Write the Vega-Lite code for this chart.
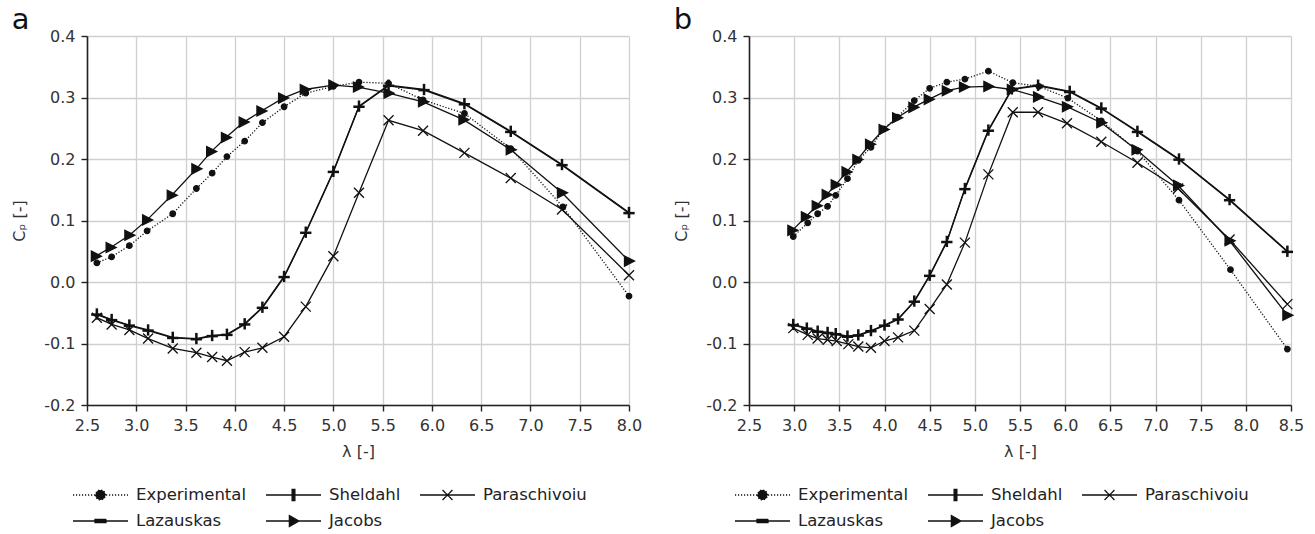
{
  "$schema": "https://vega.github.io/schema/vega-lite/v6.json",
  "padding": {"left": 11, "top": 6, "right": 5, "bottom": 0},
  "spacing": 31,
  "datasets": {
    "a": [
      {"series": "Experimental", "lambda": 2.60, "cp": 0.031},
      {"series": "Experimental", "lambda": 2.75, "cp": 0.041},
      {"series": "Experimental", "lambda": 2.93, "cp": 0.059},
      {"series": "Experimental", "lambda": 3.11, "cp": 0.083},
      {"series": "Experimental", "lambda": 3.37, "cp": 0.111},
      {"series": "Experimental", "lambda": 3.61, "cp": 0.152},
      {"series": "Experimental", "lambda": 3.77, "cp": 0.177},
      {"series": "Experimental", "lambda": 3.92, "cp": 0.204},
      {"series": "Experimental", "lambda": 4.10, "cp": 0.229},
      {"series": "Experimental", "lambda": 4.28, "cp": 0.259},
      {"series": "Experimental", "lambda": 4.50, "cp": 0.285},
      {"series": "Experimental", "lambda": 4.72, "cp": 0.307},
      {"series": "Experimental", "lambda": 5.00, "cp": 0.318},
      {"series": "Experimental", "lambda": 5.26, "cp": 0.325},
      {"series": "Experimental", "lambda": 5.56, "cp": 0.323},
      {"series": "Experimental", "lambda": 5.91, "cp": 0.296},
      {"series": "Experimental", "lambda": 6.33, "cp": 0.274},
      {"series": "Experimental", "lambda": 6.80, "cp": 0.217},
      {"series": "Experimental", "lambda": 7.33, "cp": 0.122},
      {"series": "Experimental", "lambda": 8.00, "cp": -0.023},
      {"series": "Sheldahl", "lambda": 2.60, "cp": -0.052},
      {"series": "Sheldahl", "lambda": 2.75, "cp": -0.061},
      {"series": "Sheldahl", "lambda": 2.93, "cp": -0.070},
      {"series": "Sheldahl", "lambda": 3.12, "cp": -0.078},
      {"series": "Sheldahl", "lambda": 3.37, "cp": -0.090},
      {"series": "Sheldahl", "lambda": 3.61, "cp": -0.092},
      {"series": "Sheldahl", "lambda": 3.77, "cp": -0.087},
      {"series": "Sheldahl", "lambda": 3.92, "cp": -0.085},
      {"series": "Sheldahl", "lambda": 4.10, "cp": -0.068},
      {"series": "Sheldahl", "lambda": 4.28, "cp": -0.041},
      {"series": "Sheldahl", "lambda": 4.50, "cp": 0.009},
      {"series": "Sheldahl", "lambda": 4.72, "cp": 0.081},
      {"series": "Sheldahl", "lambda": 5.00, "cp": 0.180},
      {"series": "Sheldahl", "lambda": 5.26, "cp": 0.286},
      {"series": "Sheldahl", "lambda": 5.56, "cp": 0.320},
      {"series": "Sheldahl", "lambda": 5.92, "cp": 0.313},
      {"series": "Sheldahl", "lambda": 6.33, "cp": 0.290},
      {"series": "Sheldahl", "lambda": 6.80, "cp": 0.245},
      {"series": "Sheldahl", "lambda": 7.32, "cp": 0.191},
      {"series": "Sheldahl", "lambda": 8.00, "cp": 0.113},
      {"series": "Lazauskas", "lambda": 2.60, "cp": -0.053},
      {"series": "Lazauskas", "lambda": 2.75, "cp": -0.062},
      {"series": "Lazauskas", "lambda": 2.93, "cp": -0.071},
      {"series": "Lazauskas", "lambda": 3.12, "cp": -0.079},
      {"series": "Lazauskas", "lambda": 3.37, "cp": -0.091},
      {"series": "Lazauskas", "lambda": 3.61, "cp": -0.093},
      {"series": "Lazauskas", "lambda": 3.77, "cp": -0.088},
      {"series": "Lazauskas", "lambda": 3.92, "cp": -0.086},
      {"series": "Lazauskas", "lambda": 4.10, "cp": -0.069},
      {"series": "Lazauskas", "lambda": 4.28, "cp": -0.042},
      {"series": "Lazauskas", "lambda": 4.50, "cp": 0.008},
      {"series": "Lazauskas", "lambda": 4.72, "cp": 0.080},
      {"series": "Lazauskas", "lambda": 5.00, "cp": 0.179},
      {"series": "Lazauskas", "lambda": 5.26, "cp": 0.285},
      {"series": "Lazauskas", "lambda": 5.56, "cp": 0.319},
      {"series": "Lazauskas", "lambda": 5.92, "cp": 0.312},
      {"series": "Lazauskas", "lambda": 6.33, "cp": 0.289},
      {"series": "Lazauskas", "lambda": 6.80, "cp": 0.244},
      {"series": "Lazauskas", "lambda": 7.32, "cp": 0.190},
      {"series": "Lazauskas", "lambda": 8.00, "cp": 0.112},
      {"series": "Paraschivoiu", "lambda": 2.60, "cp": -0.058},
      {"series": "Paraschivoiu", "lambda": 2.75, "cp": -0.069},
      {"series": "Paraschivoiu", "lambda": 2.93, "cp": -0.078},
      {"series": "Paraschivoiu", "lambda": 3.12, "cp": -0.092},
      {"series": "Paraschivoiu", "lambda": 3.37, "cp": -0.108},
      {"series": "Paraschivoiu", "lambda": 3.61, "cp": -0.115},
      {"series": "Paraschivoiu", "lambda": 3.77, "cp": -0.122},
      {"series": "Paraschivoiu", "lambda": 3.92, "cp": -0.128},
      {"series": "Paraschivoiu", "lambda": 4.10, "cp": -0.114},
      {"series": "Paraschivoiu", "lambda": 4.28, "cp": -0.107},
      {"series": "Paraschivoiu", "lambda": 4.50, "cp": -0.089},
      {"series": "Paraschivoiu", "lambda": 4.72, "cp": -0.040},
      {"series": "Paraschivoiu", "lambda": 5.00, "cp": 0.042},
      {"series": "Paraschivoiu", "lambda": 5.26, "cp": 0.145},
      {"series": "Paraschivoiu", "lambda": 5.56, "cp": 0.263},
      {"series": "Paraschivoiu", "lambda": 5.91, "cp": 0.246},
      {"series": "Paraschivoiu", "lambda": 6.33, "cp": 0.210},
      {"series": "Paraschivoiu", "lambda": 6.80, "cp": 0.169},
      {"series": "Paraschivoiu", "lambda": 7.32, "cp": 0.118},
      {"series": "Paraschivoiu", "lambda": 8.00, "cp": 0.011},
      {"series": "Jacobs", "lambda": 2.59, "cp": 0.042},
      {"series": "Jacobs", "lambda": 2.74, "cp": 0.056},
      {"series": "Jacobs", "lambda": 2.93, "cp": 0.076},
      {"series": "Jacobs", "lambda": 3.11, "cp": 0.101},
      {"series": "Jacobs", "lambda": 3.36, "cp": 0.141},
      {"series": "Jacobs", "lambda": 3.61, "cp": 0.184},
      {"series": "Jacobs", "lambda": 3.76, "cp": 0.212},
      {"series": "Jacobs", "lambda": 3.91, "cp": 0.235},
      {"series": "Jacobs", "lambda": 4.09, "cp": 0.260},
      {"series": "Jacobs", "lambda": 4.27, "cp": 0.278},
      {"series": "Jacobs", "lambda": 4.49, "cp": 0.299},
      {"series": "Jacobs", "lambda": 4.71, "cp": 0.313},
      {"series": "Jacobs", "lambda": 5.00, "cp": 0.320},
      {"series": "Jacobs", "lambda": 5.25, "cp": 0.317},
      {"series": "Jacobs", "lambda": 5.56, "cp": 0.307},
      {"series": "Jacobs", "lambda": 5.91, "cp": 0.293},
      {"series": "Jacobs", "lambda": 6.32, "cp": 0.264},
      {"series": "Jacobs", "lambda": 6.80, "cp": 0.215},
      {"series": "Jacobs", "lambda": 7.32, "cp": 0.145},
      {"series": "Jacobs", "lambda": 8.00, "cp": 0.034}
    ],
    "b": [
      {"series": "Experimental", "lambda": 2.99, "cp": 0.074},
      {"series": "Experimental", "lambda": 3.15, "cp": 0.096},
      {"series": "Experimental", "lambda": 3.26, "cp": 0.111},
      {"series": "Experimental", "lambda": 3.37, "cp": 0.123},
      {"series": "Experimental", "lambda": 3.46, "cp": 0.141},
      {"series": "Experimental", "lambda": 3.59, "cp": 0.168},
      {"series": "Experimental", "lambda": 3.71, "cp": 0.198},
      {"series": "Experimental", "lambda": 3.85, "cp": 0.219},
      {"series": "Experimental", "lambda": 3.99, "cp": 0.249},
      {"series": "Experimental", "lambda": 4.14, "cp": 0.268},
      {"series": "Experimental", "lambda": 4.33, "cp": 0.295},
      {"series": "Experimental", "lambda": 4.50, "cp": 0.315},
      {"series": "Experimental", "lambda": 4.69, "cp": 0.325},
      {"series": "Experimental", "lambda": 4.89, "cp": 0.330},
      {"series": "Experimental", "lambda": 5.15, "cp": 0.343},
      {"series": "Experimental", "lambda": 5.42, "cp": 0.324},
      {"series": "Experimental", "lambda": 5.71, "cp": 0.318},
      {"series": "Experimental", "lambda": 6.03, "cp": 0.299},
      {"series": "Experimental", "lambda": 6.40, "cp": 0.262},
      {"series": "Experimental", "lambda": 6.80, "cp": 0.213},
      {"series": "Experimental", "lambda": 7.26, "cp": 0.133},
      {"series": "Experimental", "lambda": 7.83, "cp": 0.020},
      {"series": "Experimental", "lambda": 8.46, "cp": -0.109},
      {"series": "Sheldahl", "lambda": 2.99, "cp": -0.069},
      {"series": "Sheldahl", "lambda": 3.14, "cp": -0.075},
      {"series": "Sheldahl", "lambda": 3.26, "cp": -0.080},
      {"series": "Sheldahl", "lambda": 3.37, "cp": -0.082},
      {"series": "Sheldahl", "lambda": 3.46, "cp": -0.084},
      {"series": "Sheldahl", "lambda": 3.59, "cp": -0.088},
      {"series": "Sheldahl", "lambda": 3.71, "cp": -0.086},
      {"series": "Sheldahl", "lambda": 3.85, "cp": -0.079},
      {"series": "Sheldahl", "lambda": 4.00, "cp": -0.070},
      {"series": "Sheldahl", "lambda": 4.15, "cp": -0.060},
      {"series": "Sheldahl", "lambda": 4.33, "cp": -0.031},
      {"series": "Sheldahl", "lambda": 4.50, "cp": 0.011},
      {"series": "Sheldahl", "lambda": 4.69, "cp": 0.066},
      {"series": "Sheldahl", "lambda": 4.89, "cp": 0.152},
      {"series": "Sheldahl", "lambda": 5.15, "cp": 0.247},
      {"series": "Sheldahl", "lambda": 5.41, "cp": 0.314},
      {"series": "Sheldahl", "lambda": 5.70, "cp": 0.320},
      {"series": "Sheldahl", "lambda": 6.05, "cp": 0.310},
      {"series": "Sheldahl", "lambda": 6.40, "cp": 0.283},
      {"series": "Sheldahl", "lambda": 6.80, "cp": 0.245},
      {"series": "Sheldahl", "lambda": 7.26, "cp": 0.200},
      {"series": "Sheldahl", "lambda": 7.82, "cp": 0.134},
      {"series": "Sheldahl", "lambda": 8.46, "cp": 0.050},
      {"series": "Lazauskas", "lambda": 2.99, "cp": -0.070},
      {"series": "Lazauskas", "lambda": 3.14, "cp": -0.076},
      {"series": "Lazauskas", "lambda": 3.26, "cp": -0.081},
      {"series": "Lazauskas", "lambda": 3.37, "cp": -0.083},
      {"series": "Lazauskas", "lambda": 3.46, "cp": -0.085},
      {"series": "Lazauskas", "lambda": 3.59, "cp": -0.089},
      {"series": "Lazauskas", "lambda": 3.71, "cp": -0.087},
      {"series": "Lazauskas", "lambda": 3.85, "cp": -0.080},
      {"series": "Lazauskas", "lambda": 4.00, "cp": -0.071},
      {"series": "Lazauskas", "lambda": 4.15, "cp": -0.061},
      {"series": "Lazauskas", "lambda": 4.33, "cp": -0.032},
      {"series": "Lazauskas", "lambda": 4.50, "cp": 0.010},
      {"series": "Lazauskas", "lambda": 4.69, "cp": 0.065},
      {"series": "Lazauskas", "lambda": 4.89, "cp": 0.151},
      {"series": "Lazauskas", "lambda": 5.15, "cp": 0.246},
      {"series": "Lazauskas", "lambda": 5.41, "cp": 0.313},
      {"series": "Lazauskas", "lambda": 5.70, "cp": 0.319},
      {"series": "Lazauskas", "lambda": 6.05, "cp": 0.309},
      {"series": "Lazauskas", "lambda": 6.40, "cp": 0.282},
      {"series": "Lazauskas", "lambda": 6.80, "cp": 0.244},
      {"series": "Lazauskas", "lambda": 7.26, "cp": 0.199},
      {"series": "Lazauskas", "lambda": 7.82, "cp": 0.133},
      {"series": "Lazauskas", "lambda": 8.46, "cp": 0.049},
      {"series": "Paraschivoiu", "lambda": 2.99, "cp": -0.075},
      {"series": "Paraschivoiu", "lambda": 3.15, "cp": -0.086},
      {"series": "Paraschivoiu", "lambda": 3.26, "cp": -0.092},
      {"series": "Paraschivoiu", "lambda": 3.37, "cp": -0.094},
      {"series": "Paraschivoiu", "lambda": 3.47, "cp": -0.096},
      {"series": "Paraschivoiu", "lambda": 3.60, "cp": -0.101},
      {"series": "Paraschivoiu", "lambda": 3.71, "cp": -0.105},
      {"series": "Paraschivoiu", "lambda": 3.85, "cp": -0.107},
      {"series": "Paraschivoiu", "lambda": 4.00, "cp": -0.096},
      {"series": "Paraschivoiu", "lambda": 4.15, "cp": -0.090},
      {"series": "Paraschivoiu", "lambda": 4.33, "cp": -0.079},
      {"series": "Paraschivoiu", "lambda": 4.50, "cp": -0.044},
      {"series": "Paraschivoiu", "lambda": 4.69, "cp": -0.004},
      {"series": "Paraschivoiu", "lambda": 4.89, "cp": 0.064},
      {"series": "Paraschivoiu", "lambda": 5.15, "cp": 0.175},
      {"series": "Paraschivoiu", "lambda": 5.42, "cp": 0.276},
      {"series": "Paraschivoiu", "lambda": 5.70, "cp": 0.276},
      {"series": "Paraschivoiu", "lambda": 6.02, "cp": 0.258},
      {"series": "Paraschivoiu", "lambda": 6.40, "cp": 0.228},
      {"series": "Paraschivoiu", "lambda": 6.80, "cp": 0.194},
      {"series": "Paraschivoiu", "lambda": 7.25, "cp": 0.152},
      {"series": "Paraschivoiu", "lambda": 7.82, "cp": 0.069},
      {"series": "Paraschivoiu", "lambda": 8.46, "cp": -0.036},
      {"series": "Jacobs", "lambda": 2.98, "cp": 0.084},
      {"series": "Jacobs", "lambda": 3.13, "cp": 0.106},
      {"series": "Jacobs", "lambda": 3.25, "cp": 0.124},
      {"series": "Jacobs", "lambda": 3.36, "cp": 0.142},
      {"series": "Jacobs", "lambda": 3.46, "cp": 0.158},
      {"series": "Jacobs", "lambda": 3.58, "cp": 0.179},
      {"series": "Jacobs", "lambda": 3.70, "cp": 0.199},
      {"series": "Jacobs", "lambda": 3.84, "cp": 0.224},
      {"series": "Jacobs", "lambda": 3.99, "cp": 0.248},
      {"series": "Jacobs", "lambda": 4.14, "cp": 0.267},
      {"series": "Jacobs", "lambda": 4.32, "cp": 0.284},
      {"series": "Jacobs", "lambda": 4.49, "cp": 0.297},
      {"series": "Jacobs", "lambda": 4.69, "cp": 0.311},
      {"series": "Jacobs", "lambda": 4.88, "cp": 0.317},
      {"series": "Jacobs", "lambda": 5.15, "cp": 0.318},
      {"series": "Jacobs", "lambda": 5.41, "cp": 0.313},
      {"series": "Jacobs", "lambda": 5.70, "cp": 0.301},
      {"series": "Jacobs", "lambda": 6.02, "cp": 0.285},
      {"series": "Jacobs", "lambda": 6.40, "cp": 0.259},
      {"series": "Jacobs", "lambda": 6.79, "cp": 0.215},
      {"series": "Jacobs", "lambda": 7.25, "cp": 0.157},
      {"series": "Jacobs", "lambda": 7.82, "cp": 0.067},
      {"series": "Jacobs", "lambda": 8.46, "cp": -0.054}
    ]
  },
  "hconcat": [
    {
      "width": 542,
      "height": 369,
      "title": {"text": "a", "anchor": "start", "frame": "bounds", "offset": -7},
      "data": {"name": "a"},
      "resolve": {"scale": {"shape": "independent", "strokeDash": "independent"}},
      "layer": [
        {
          "transform": [{"filter": "datum.series === 'Experimental'"}],
          "mark": {"type": "line", "strokeDash": [1.2, 1.8], "strokeWidth": 1.3, "color": "#111"},
          "encoding": {
            "x": {"field": "lambda", "type": "quantitative", "scale": {"domain": [2.5, 8.0], "nice": false, "zero": false},
                  "axis": {"title": "λ [-]", "values": [2.5, 3.0, 3.5, 4.0, 4.5, 5.0, 5.5, 6.0, 6.5, 7.0, 7.5, 8.0], "format": ".1f", "labelFlush": false}},
            "y": {"field": "cp", "type": "quantitative", "scale": {"domain": [-0.2, 0.4], "nice": false, "zero": false},
                  "axis": {"title": "Cₚ [-]", "values": [-0.2, -0.1, 0.0, 0.1, 0.2, 0.3, 0.4], "format": ".1f"}}
          }
        },
        {
          "transform": [{"filter": "datum.series !== 'Experimental'"}],
          "mark": {"type": "line", "strokeWidth": 1.3, "color": "#111"},
          "encoding": {
            "x": {"field": "lambda", "type": "quantitative"},
            "y": {"field": "cp", "type": "quantitative"},
            "detail": {"field": "series"}
          }
        },
        {
          "mark": {"type": "point", "filled": true, "fill": "#111", "stroke": "#111", "strokeWidth": 1.3, "size": 100, "opacity": 1},
          "encoding": {
            "x": {"field": "lambda", "type": "quantitative"},
            "y": {"field": "cp", "type": "quantitative"},
            "shape": {
              "field": "series", "type": "nominal",
              "scale": {
                "domain": ["Experimental", "Sheldahl", "Paraschivoiu", "Lazauskas", "Jacobs"],
                "range": [
                  "M-0.55,0A0.55,0.55 0 1,0 0.55,0A0.55,0.55 0 1,0 -0.55,0Z",
                  "M-0.12,-1H0.12V1H-0.12Z",
                  "M-1,-1L1,1M-1,1L1,-1",
                  "M-1,-0.12H1V0.12H-1Z",
                  "M-0.9,-1L1.1,0L-0.9,1Z"
                ]
              },
              "legend": null
            }
          }
        },
        {
          "transform": [{"filter": "false"}],
          "mark": {"type": "point", "filled": true, "fill": "#111", "stroke": "#111", "strokeWidth": 1.3, "size": 100, "opacity": 1},
          "encoding": {
            "x": {"field": "lambda", "type": "quantitative"},
            "y": {"field": "cp", "type": "quantitative"},
            "strokeDash": {
              "field": "series", "type": "nominal",
              "scale": {
                "domain": ["Experimental", "Sheldahl", "Paraschivoiu", "Lazauskas", "Jacobs"],
                "range": [[1.2, 1.8], [1, 0], [1, 0], [1, 0], [1, 0]]
              },
              "legend": {
                "title": null, "orient": "none", "legendX": -15, "legendY": 449,
                "columns": 3, "direction": "horizontal", "symbolSize": 3025, "clipHeight": 20,
                "labelOffset": 7, "columnPadding": 18, "rowPadding": 6, "padding": 0,
                "labelFont": "DejaVu Sans", "labelFontSize": 16.5, "labelColor": "#222",
                "symbolStrokeWidth": 1.3, "symbolStrokeColor": "#111", "symbolFillColor": "#111", "symbolOpacity": 1
              }
            },
            "shape": {
              "field": "series", "type": "nominal",
              "scale": {
                "domain": ["Experimental", "Sheldahl", "Paraschivoiu", "Lazauskas", "Jacobs"],
                "range": [
                  "M-1,0H1M-0.18,0A0.18,0.18 0 1,0 0.18,0A0.18,0.18 0 1,0 -0.18,0Z",
                  "M-1,0H1M-0.05,-0.2H0.05V0.2H-0.05Z",
                  "M-1,0H1M-0.18,-0.18L0.18,0.18M-0.18,0.18L0.18,-0.18",
                  "M-1,0H1M-0.2,-0.06H0.2V0.06H-0.2Z",
                  "M-1,0H1M-0.15,-0.2L0.2,0L-0.15,0.2Z"
                ]
              },
              "legend": {
                "title": null, "orient": "none", "legendX": -15, "legendY": 449,
                "columns": 3, "direction": "horizontal", "symbolSize": 3025, "clipHeight": 20,
                "labelOffset": 7, "columnPadding": 18, "rowPadding": 6, "padding": 0,
                "labelFont": "DejaVu Sans", "labelFontSize": 16.5, "labelColor": "#222",
                "symbolStrokeWidth": 1.3, "symbolStrokeColor": "#111", "symbolFillColor": "#111", "symbolOpacity": 1,
                "encoding": {"symbols": {
                  "stroke": {"value": "#111"},
                  "fill": {"value": "#111"},
                  "strokeWidth": {"value": 1.3}
                }}
              }
            }
          }
        }
      ]
    },
    {
      "width": 542,
      "height": 369,
      "title": {"text": "b", "anchor": "start", "frame": "bounds", "offset": -7},
      "data": {"name": "b"},
      "resolve": {"scale": {"shape": "independent", "strokeDash": "independent"}},
      "layer": [
        {
          "transform": [{"filter": "datum.series === 'Experimental'"}],
          "mark": {"type": "line", "strokeDash": [1.2, 1.8], "strokeWidth": 1.3, "color": "#111"},
          "encoding": {
            "x": {"field": "lambda", "type": "quantitative", "scale": {"domain": [2.5, 8.5], "nice": false, "zero": false},
                  "axis": {"title": "λ [-]", "values": [2.5, 3.0, 3.5, 4.0, 4.5, 5.0, 5.5, 6.0, 6.5, 7.0, 7.5, 8.0, 8.5], "format": ".1f", "labelFlush": false}},
            "y": {"field": "cp", "type": "quantitative", "scale": {"domain": [-0.2, 0.4], "nice": false, "zero": false},
                  "axis": {"title": "Cₚ [-]", "values": [-0.2, -0.1, 0.0, 0.1, 0.2, 0.3, 0.4], "format": ".1f"}}
          }
        },
        {
          "transform": [{"filter": "datum.series !== 'Experimental'"}],
          "mark": {"type": "line", "strokeWidth": 1.3, "color": "#111"},
          "encoding": {
            "x": {"field": "lambda", "type": "quantitative"},
            "y": {"field": "cp", "type": "quantitative"},
            "detail": {"field": "series"}
          }
        },
        {
          "mark": {"type": "point", "filled": true, "fill": "#111", "stroke": "#111", "strokeWidth": 1.3, "size": 100, "opacity": 1},
          "encoding": {
            "x": {"field": "lambda", "type": "quantitative"},
            "y": {"field": "cp", "type": "quantitative"},
            "shape": {
              "field": "series", "type": "nominal",
              "scale": {
                "domain": ["Experimental", "Sheldahl", "Paraschivoiu", "Lazauskas", "Jacobs"],
                "range": [
                  "M-0.55,0A0.55,0.55 0 1,0 0.55,0A0.55,0.55 0 1,0 -0.55,0Z",
                  "M-0.12,-1H0.12V1H-0.12Z",
                  "M-1,-1L1,1M-1,1L1,-1",
                  "M-1,-0.12H1V0.12H-1Z",
                  "M-0.9,-1L1.1,0L-0.9,1Z"
                ]
              },
              "legend": null
            }
          }
        },
        {
          "transform": [{"filter": "false"}],
          "mark": {"type": "point", "filled": true, "fill": "#111", "stroke": "#111", "strokeWidth": 1.3, "size": 100, "opacity": 1},
          "encoding": {
            "x": {"field": "lambda", "type": "quantitative"},
            "y": {"field": "cp", "type": "quantitative"},
            "strokeDash": {
              "field": "series", "type": "nominal",
              "scale": {
                "domain": ["Experimental", "Sheldahl", "Paraschivoiu", "Lazauskas", "Jacobs"],
                "range": [[1.2, 1.8], [1, 0], [1, 0], [1, 0], [1, 0]]
              },
              "legend": {
                "title": null, "orient": "none", "legendX": -15, "legendY": 449,
                "columns": 3, "direction": "horizontal", "symbolSize": 3025, "clipHeight": 20,
                "labelOffset": 7, "columnPadding": 18, "rowPadding": 6, "padding": 0,
                "labelFont": "DejaVu Sans", "labelFontSize": 16.5, "labelColor": "#222",
                "symbolStrokeWidth": 1.3, "symbolStrokeColor": "#111", "symbolFillColor": "#111", "symbolOpacity": 1
              }
            },
            "shape": {
              "field": "series", "type": "nominal",
              "scale": {
                "domain": ["Experimental", "Sheldahl", "Paraschivoiu", "Lazauskas", "Jacobs"],
                "range": [
                  "M-1,0H1M-0.18,0A0.18,0.18 0 1,0 0.18,0A0.18,0.18 0 1,0 -0.18,0Z",
                  "M-1,0H1M-0.05,-0.2H0.05V0.2H-0.05Z",
                  "M-1,0H1M-0.18,-0.18L0.18,0.18M-0.18,0.18L0.18,-0.18",
                  "M-1,0H1M-0.2,-0.06H0.2V0.06H-0.2Z",
                  "M-1,0H1M-0.15,-0.2L0.2,0L-0.15,0.2Z"
                ]
              },
              "legend": {
                "title": null, "orient": "none", "legendX": -15, "legendY": 449,
                "columns": 3, "direction": "horizontal", "symbolSize": 3025, "clipHeight": 20,
                "labelOffset": 7, "columnPadding": 18, "rowPadding": 6, "padding": 0,
                "labelFont": "DejaVu Sans", "labelFontSize": 16.5, "labelColor": "#222",
                "symbolStrokeWidth": 1.3, "symbolStrokeColor": "#111", "symbolFillColor": "#111", "symbolOpacity": 1,
                "encoding": {"symbols": {
                  "stroke": {"value": "#111"},
                  "fill": {"value": "#111"},
                  "strokeWidth": {"value": 1.3}
                }}
              }
            }
          }
        }
      ]
    }
  ],
  "config": {
    "view": {"stroke": null},
    "font": "DejaVu Sans",
    "locale": {"number": {"decimal": ".", "thousands": ",", "grouping": [3], "currency": ["", ""], "minus": "-"}},
    "title": {"font": "DejaVu Sans", "fontSize": 29, "fontWeight": "normal", "color": "#111"},
    "axis": {
      "labelFont": "DejaVu Sans", "labelFontSize": 16, "labelColor": "#333",
      "titleFont": "DejaVu Sans", "titleFontSize": 16, "titleFontWeight": "normal", "titleColor": "#333",
      "gridColor": "#d0d0d0", "gridWidth": 1.3,
      "domainColor": "#222", "domainWidth": 1.6,
      "tickColor": "#222", "tickWidth": 1.4, "tickSize": 6, "labelPadding": 6
    },
    "axisX": {"titlePadding": 10},
    "axisY": {"titlePadding": 16}
  }
}
